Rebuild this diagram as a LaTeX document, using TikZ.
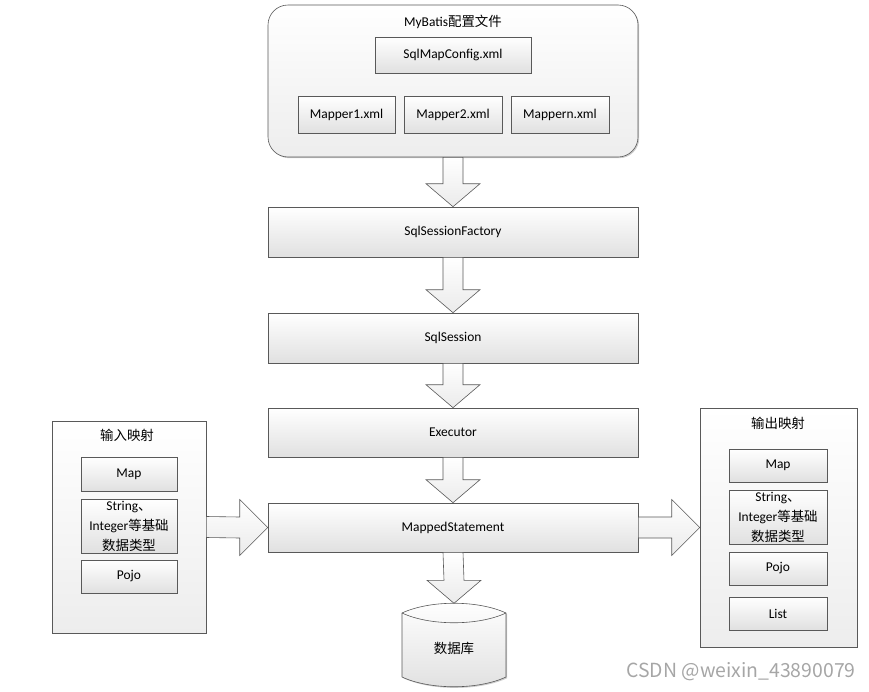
\documentclass[tikz,border=0pt]{standalone}
\usepackage{fontspec}
\setmainfont{Carlito}
\newfontfamily\cjk{Noto Sans CJK SC}
\usepackage{tikz}
\usetikzlibrary{calc,shadows}

% fat block arrows between two nodes
\newcommand{\downblock}[2]{%
  \draw[fat] ($(#1.south)+(-10bp,0)$) -- ($(#2.north)+(-10bp,23bp)$) -- ($(#2.north)+(-27bp,23bp)$) -- (#2.north) -- ($(#2.north)+(27bp,23bp)$) -- ($(#2.north)+(10bp,23bp)$) -- ($(#1.south)+(10bp,0)$) -- cycle;}
\newcommand{\rightblock}[2]{%
  \draw[fat] ($(#1.east)+(0,10.5bp)$) -- ($(#2.west)+(-28bp,10.5bp)$) -- ($(#2.west)+(-28bp,28bp)$) -- (#2.west) -- ($(#2.west)+(-28bp,-28bp)$) -- ($(#2.west)+(-28bp,-10.5bp)$) -- ($(#1.east)+(0,-10.5bp)$) -- cycle;}

\begin{document}
\begin{tikzpicture}[
  font=\fontsize{13.5}{20}\selectfont,
  box/.style={draw=black!65,line width=0.6pt,top color=white,bottom color=black!12,inner sep=0pt,align=center,
    drop shadow={shadow xshift=1.2pt,shadow yshift=-1.2pt,fill=black!40,opacity=0.5}},
  frame/.style={box,bottom color=black!7},
  fat/.style={draw=black!65,line width=0.6pt,top color=white,bottom color=black!8}]
\useasboundingbox (0bp,0bp) rectangle (869bp,-692bp);

% configuration files
\node (Cfg) at (453bp,-81bp)[frame,rounded corners=20bp,minimum width=370bp,minimum height=152bp] {};
\node (CfgTitle) at (453bp,-22bp) {MyBatis{\cjk 配置文件}};
\node (SqlMap) at (453bp,-55bp)[box,minimum width=156bp,minimum height=36bp] {SqlMapConfig.xml};
\node (M1) at (346.5bp,-114.5bp)[box,minimum width=97bp,minimum height=37bp] {Mapper1.xml};
\node (M2) at (453bp,-114.5bp)[box,minimum width=98bp,minimum height=37bp] {Mapper2.xml};
\node (Mn) at (560bp,-114.5bp)[box,minimum width=98bp,minimum height=37bp] {Mappern.xml};

% main chain
\node (Fac) at (453bp,-232bp)[box,minimum width=370bp,minimum height=50bp] {SqlSessionFactory};
\node (Ses) at (453bp,-338bp)[box,minimum width=370bp,minimum height=50bp] {SqlSession};
\node (Exe) at (453bp,-432.5bp)[box,minimum width=370bp,minimum height=49bp] {Executor};
\node (Mst) at (453bp,-527.5bp)[box,minimum width=370bp,minimum height=49bp] {MappedStatement};

% database
\node (Db) at (454bp,-645bp)[minimum width=104bp,minimum height=83bp] {};
\draw[box] (402bp,-613bp) .. controls (430bp,-600bp) and (478bp,-600bp) .. (506bp,-613bp) -- (506bp,-677bp) .. controls (478bp,-690bp) and (430bp,-690bp) .. (402bp,-677bp) -- cycle;
\draw[draw=black!65,line width=0.6pt] (402bp,-613bp) .. controls (430bp,-626bp) and (478bp,-626bp) .. (506bp,-613bp);
\node (DbText) at (454bp,-648bp) {\cjk 数据库};

% input mapping
\node (In) at (129bp,-527bp)[frame,minimum width=154bp,minimum height=212bp] {};
\node (InTitle) at (127bp,-435bp) {\cjk 输入映射};
\node (InMap) at (129bp,-474bp)[box,minimum width=96bp,minimum height=34bp] {Map};
\node (InStr) at (129bp,-526bp)[box,minimum width=96bp,minimum height=54bp] {String{\cjk 、}\\Integer{\cjk 等基础}\\{\cjk 数据类型}};
\node (InPojo) at (129bp,-576.5bp)[box,minimum width=96bp,minimum height=33bp] {Pojo};

% output mapping
\node (Out) at (778.5bp,-527.5bp)[frame,minimum width=157bp,minimum height=239bp] {};
\node (OutTitle) at (778bp,-423bp) {\cjk 输出映射};
\node (OutMap) at (778bp,-465.5bp)[box,minimum width=98bp,minimum height=33bp] {Map};
\node (OutStr) at (778bp,-517bp)[box,minimum width=98bp,minimum height=54bp] {String{\cjk 、}\\Integer{\cjk 等基础}\\{\cjk 数据类型}};
\node (OutPojo) at (778bp,-568.5bp)[box,minimum width=98bp,minimum height=33bp] {Pojo};
\node (OutList) at (778bp,-613.5bp)[box,minimum width=98bp,minimum height=33bp] {List};

% arrows
\downblock{Cfg}{Fac}
\downblock{Fac}{Ses}
\downblock{Ses}{Exe}
\downblock{Exe}{Mst}
\downblock{Mst}{Db}
\rightblock{In}{Mst}
\rightblock{Mst}{Out}

\node (Mark) at (741bp,-672bp)[text=black!35,font=\cjk\fontsize{19.5}{22}\selectfont] {CSDN @weixin\_43890079};
\end{tikzpicture}
\end{document}
